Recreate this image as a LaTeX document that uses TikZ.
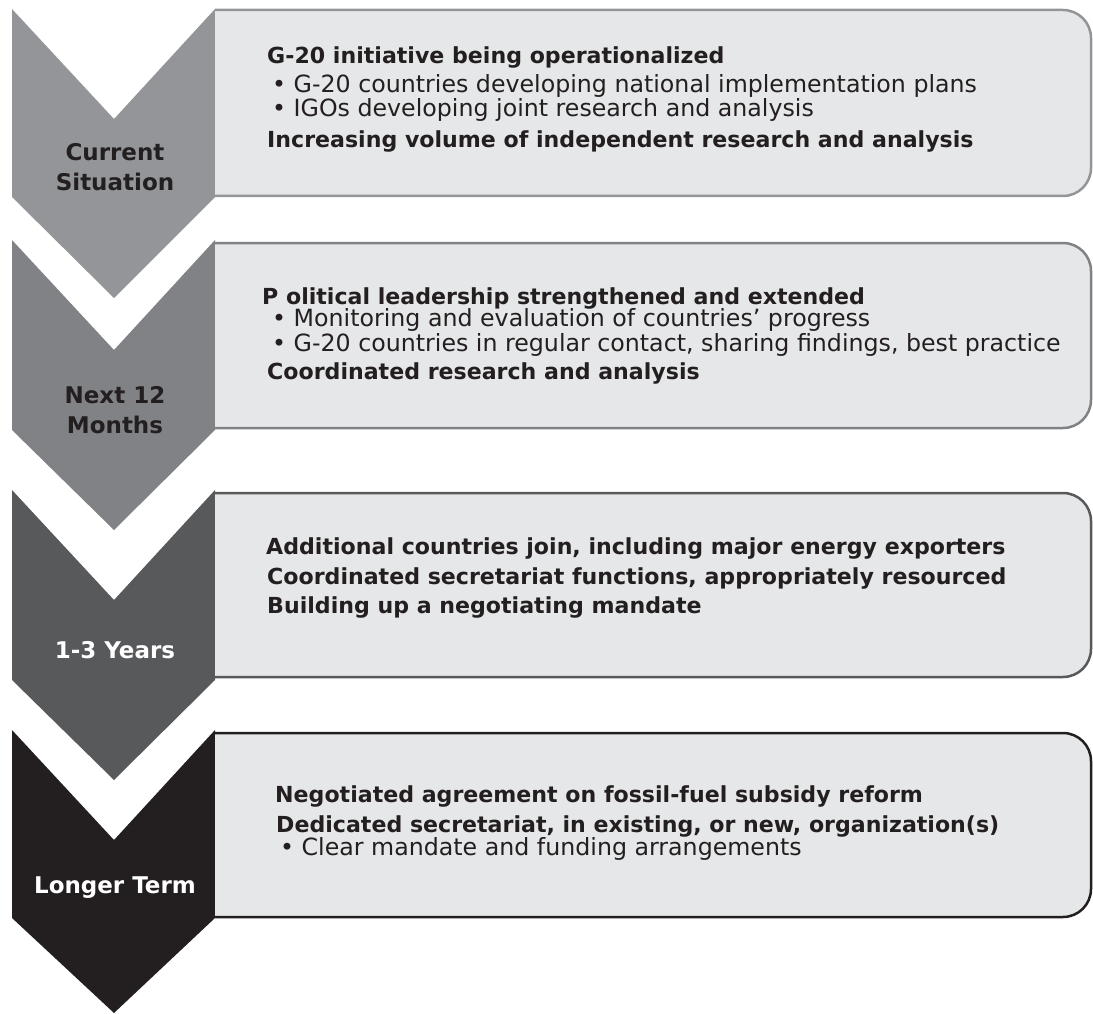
\documentclass[tikz,border=0pt]{standalone}
\usepackage{fontspec}
\setmainfont{DejaVu Sans}
\definecolor{stageone}{HTML}{939598}
\definecolor{stagetwo}{HTML}{808285}
\definecolor{stagethree}{HTML}{58595B}
\definecolor{stagefour}{HTML}{231F20}
\definecolor{panelfill}{HTML}{E6E7E8}
\definecolor{ink}{HTML}{231F20}

\begin{document}
\begin{tikzpicture}[x=1pt,y=-1pt,
  panel/.style={draw=#1,fill=panelfill,line width=2.5pt,rounded corners=28pt},
  stagelabel/.style={font=\fontsize{23}{30}\selectfont\bfseries,align=center,text=ink,inner sep=0pt},
  headline/.style={anchor=base west,font=\fontsize{22.1}{27}\selectfont\bfseries,text=ink,inner sep=0pt},
  bulletline/.style={anchor=base west,font=\fontsize{23.7}{27}\selectfont,text=ink,inner sep=0pt}]
\useasboundingbox (0,0) rectangle (1093,1014);

% Current situation
\fill[stageone] (12,9) -- (114,119) -- (215,9) -- (215,197) -- (114,298) -- (12,197) -- cycle;
\path[panel=stageone] (215,10) -- (1091,10) -- (1091,196) -- (215,196);
\node[stagelabel] (now) at (115,167) {Current\\Situation};
\node[headline] (nowA) at (267,64) {G-20 initiative being operationalized};
\node[bulletline] (nowB) at (272,93) {• G-20 countries developing national implementation plans};
\node[bulletline] (nowC) at (272,117) {• IGOs developing joint research and analysis};
\node[headline] (nowD) at (267,148) {Increasing volume of independent research and analysis};

% Next 12 months
\fill[stagetwo] (12,240) -- (114,350) -- (215,240) -- (215,430) -- (114,530) -- (12,430) -- cycle;
\path[panel=stagetwo] (215,243) -- (1091,243) -- (1091,428) -- (215,428);
\node[stagelabel] (year) at (115,410) {Next 12\\Months};
\node[headline] (yearA) at (262,304) {P olitical leadership strengthened and extended};
\node[bulletline] (yearB) at (272,326) {• Monitoring and evaluation of countries’ progress};
\node[bulletline] (yearC) at (272,351) {• G-20 countries in regular contact, sharing findings, best practice};
\node[headline] (yearD) at (267,379) {Coordinated research and analysis};

% 1-3 years
\fill[stagethree] (12,490) -- (114,600) -- (215,490) -- (215,680) -- (114,780) -- (12,680) -- cycle;
\path[panel=stagethree] (215,493) -- (1091,493) -- (1091,677) -- (215,677);
\node[stagelabel,text=white] (mid) at (115,650) {1-3 Years};
\node[headline] (midA) at (266,554) {Additional countries join, including major energy exporters};
\node[headline] (midB) at (267,584) {Coordinated secretariat functions, appropriately resourced};
\node[headline] (midC) at (267,613) {Building up a negotiating mandate};

% Longer term
\fill[stagefour] (12,730) -- (114,840) -- (215,730) -- (215,918) -- (114,1013) -- (12,918) -- cycle;
\path[panel=stagefour] (215,733) -- (1091,733) -- (1091,917) -- (215,917);
\node[stagelabel,text=white] (late) at (115,888) {Longer Term};
\node[headline] (lateA) at (275,802) {Negotiated agreement on fossil-fuel subsidy reform};
\node[headline] (lateB) at (276,832) {Dedicated secretariat, in existing, or new, organization(s)};
\node[bulletline] (lateC) at (280,855) {• Clear mandate and funding arrangements};
\end{tikzpicture}
\end{document}
